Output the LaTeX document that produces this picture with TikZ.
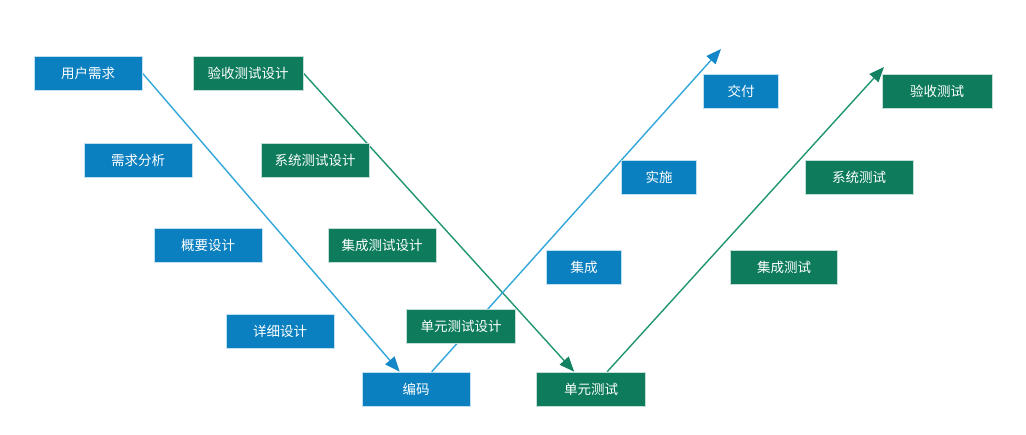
\documentclass[tikz,border=0pt]{standalone}
\usepackage{fontspec}
\newfontfamily\cjk{Noto Sans CJK SC}
\usetikzlibrary{arrows.meta,calc}
\pgfdeclarelayer{paper}
\pgfdeclarelayer{lines}
\pgfsetlayers{paper,lines,main}
\definecolor{bbox}{RGB}{11,128,192}
\definecolor{gbox}{RGB}{14,124,92}
\definecolor{bline}{RGB}{50,168,218}
\definecolor{gline}{RGB}{32,150,114}
\definecolor{btip}{RGB}{20,135,200}
\definecolor{gtip}{RGB}{18,130,98}
\tikzset{
  box/.style={minimum height=34pt, inner sep=0pt, text=white, draw=white!75!#1, line width=0.6pt, fill=#1, font=\cjk\fontsize{13.5}{13.5}\selectfont},
  bb/.style={box=bbox},
  gb/.style={box=gbox},
  bar/.style={bline, line width=1.4pt, -{Triangle[length=15pt,width=12pt,color=btip]}},
  gar/.style={gline, line width=1.4pt, -{Triangle[length=15pt,width=12pt,color=gtip]}},
}
\begin{document}
\begin{tikzpicture}[x=1pt,y=-1pt]
\begin{pgfonlayer}{paper}
\fill[white] (0,0) rectangle (1026,434);
\end{pgfonlayer}
\useasboundingbox (0,0) rectangle (1026,434);
% blue boxes
\node[bb, minimum width=108pt] (yh) at (88,73) {用户需求};
\node[bb, minimum width=108pt] (xq) at (138,160) {需求分析};
\node[bb, minimum width=108pt] (gy) at (208,245) {概要设计};
\node[bb, minimum width=108pt] (xx) at (280,331) {详细设计};
\node[bb, minimum width=108pt] (bm) at (416,389) {编码};
\node[bb, minimum width=75pt] (jc) at (584,267) {集成};
\node[bb, minimum width=75pt] (ss) at (659,177) {实施};
\node[bb, minimum width=75pt] (jf) at (741,91) {交付};
% green boxes
\node[gb, minimum width=110pt] (ysd) at (248,73) {验收测试设计};
\node[gb, minimum width=108pt] (xtd) at (315,160) {系统测试设计};
\node[gb, minimum width=108pt] (jcd) at (382,245) {集成测试设计};
\node[gb, minimum width=109pt] (dyd) at (461,326) {单元测试设计};
\node[gb, minimum width=109pt] (dy) at (591,389) {单元测试};
\node[gb, minimum width=107pt] (jct) at (784,267) {集成测试};
\node[gb, minimum width=108pt] (xt) at (859,177) {系统测试};
\node[gb, minimum width=110pt] (ys) at (937,91) {验收测试};
\coordinate (btop) at (721,49);
\coordinate (gtop) at (884,67);
\begin{pgfonlayer}{lines}
\draw[bar] (yh.east) -- ($(bm.north west)+(38,0)$);
\draw[gar] (ysd.east) -- ($(dy.north west)+(38,0)$);
\draw[bar] ($(bm.north west)+(70,0)$) -- (btop);
\draw[gar] ($(dy.north west)+(71,0)$) -- (gtop);
\end{pgfonlayer}
\end{tikzpicture}
\end{document}
